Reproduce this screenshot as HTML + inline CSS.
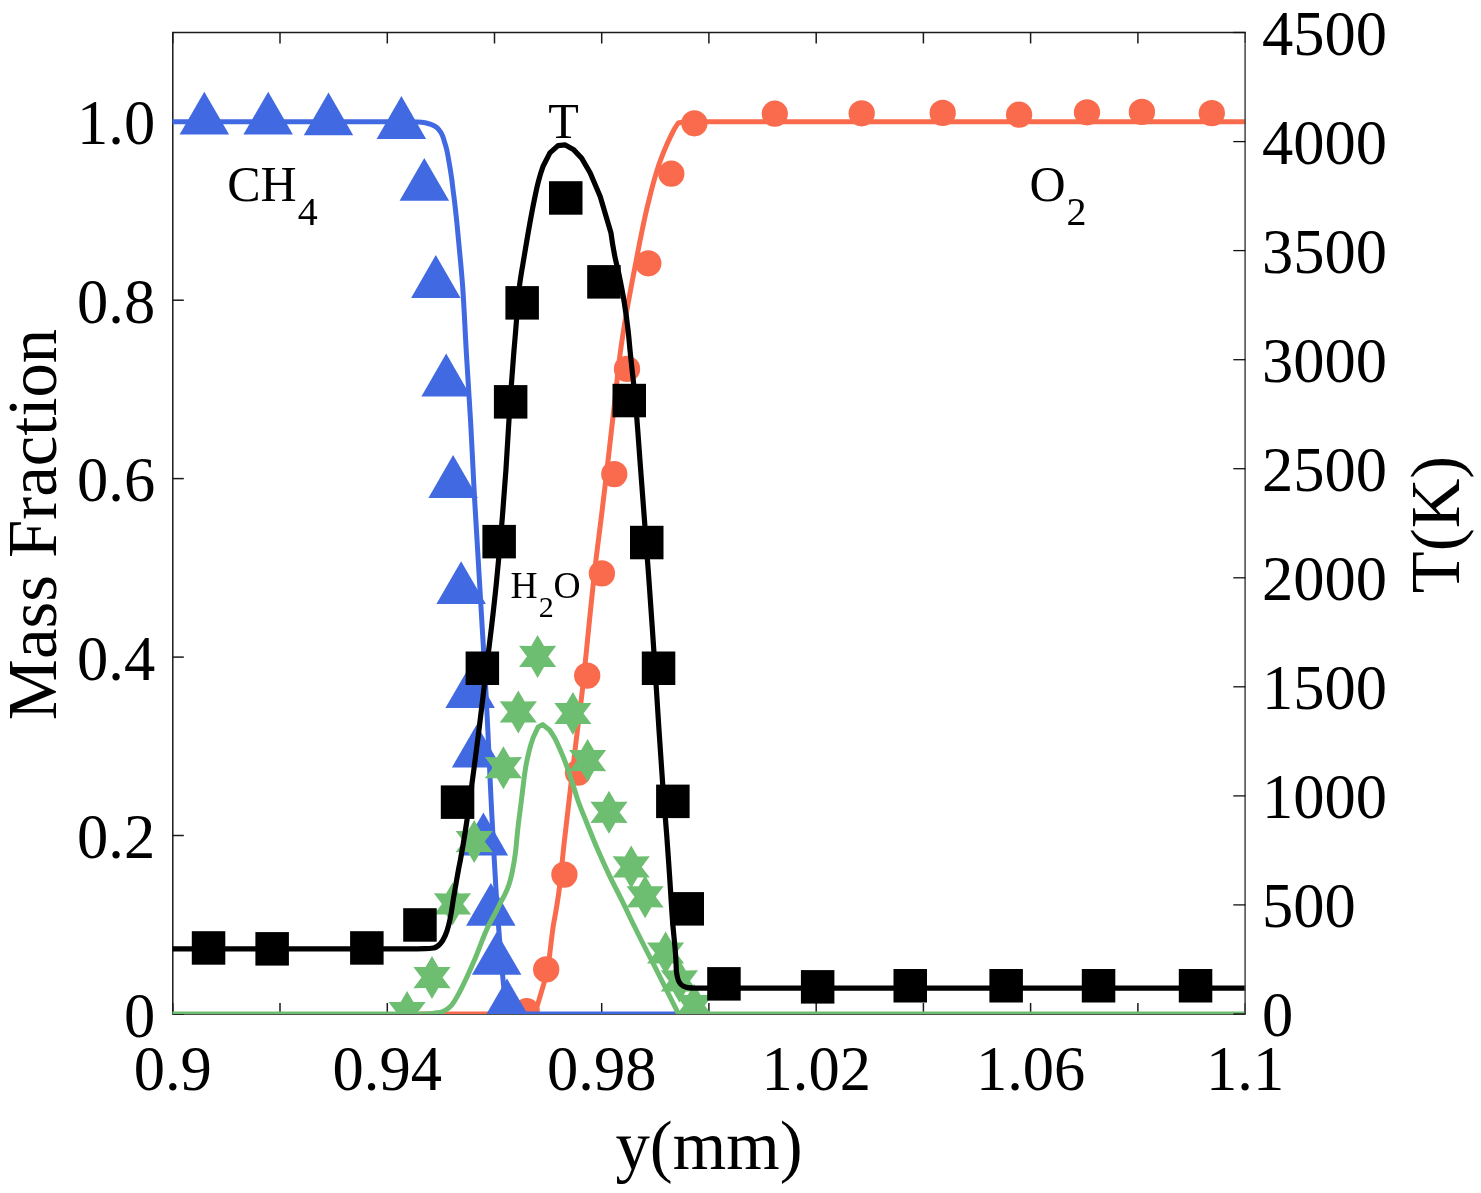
<!DOCTYPE html>
<html lang="en"><head><meta charset="utf-8"><title>Mass fraction and temperature profiles</title>
<style>html,body{margin:0;padding:0;background:#fff}svg{display:block}text{font-family:"Liberation Serif", "DejaVu Serif", serif;fill:#000}</style></head><body>
<svg width="1481" height="1193" viewBox="0 0 1481 1193" style="will-change:transform">
<rect x="0" y="0" width="1481" height="1193" fill="#ffffff"/>
<defs><clipPath id="ax"><rect x="172.5" y="32.2" width="1072.9" height="981.7"/></clipPath></defs>
<g stroke="#1a1a1a" stroke-width="1.5" fill="none" stroke-linecap="butt">
<polyline points="1245.1,1014 172.8,1014 172.8,32.5 1245.8,32.5" stroke-linejoin="miter"/>
<line x1="172.8" y1="1014" x2="172.8" y2="1003"/>
<line x1="172.8" y1="32.5" x2="172.8" y2="43.5"/>
<line x1="280" y1="1014" x2="280" y2="1003"/>
<line x1="280" y1="32.5" x2="280" y2="43.5"/>
<line x1="387.3" y1="1014" x2="387.3" y2="1003"/>
<line x1="387.3" y1="32.5" x2="387.3" y2="43.5"/>
<line x1="494.5" y1="1014" x2="494.5" y2="1003"/>
<line x1="494.5" y1="32.5" x2="494.5" y2="43.5"/>
<line x1="601.7" y1="1014" x2="601.7" y2="1003"/>
<line x1="601.7" y1="32.5" x2="601.7" y2="43.5"/>
<line x1="708.9" y1="1014" x2="708.9" y2="1003"/>
<line x1="708.9" y1="32.5" x2="708.9" y2="43.5"/>
<line x1="816.2" y1="1014" x2="816.2" y2="1003"/>
<line x1="816.2" y1="32.5" x2="816.2" y2="43.5"/>
<line x1="923.4" y1="1014" x2="923.4" y2="1003"/>
<line x1="923.4" y1="32.5" x2="923.4" y2="43.5"/>
<line x1="1030.6" y1="1014" x2="1030.6" y2="1003"/>
<line x1="1030.6" y1="32.5" x2="1030.6" y2="43.5"/>
<line x1="1137.9" y1="1014" x2="1137.9" y2="1003"/>
<line x1="1137.9" y1="32.5" x2="1137.9" y2="43.5"/>
<line x1="1245.1" y1="1014" x2="1245.1" y2="1003"/>
<line x1="1245.1" y1="32.5" x2="1245.1" y2="43.5"/>
<line x1="172.8" y1="1014" x2="183.8" y2="1014"/>
<line x1="172.8" y1="835.5" x2="183.8" y2="835.5"/>
<line x1="172.8" y1="657.1" x2="183.8" y2="657.1"/>
<line x1="172.8" y1="478.6" x2="183.8" y2="478.6"/>
<line x1="172.8" y1="300.2" x2="183.8" y2="300.2"/>
<line x1="172.8" y1="121.7" x2="183.8" y2="121.7"/>
</g>
<g clip-path="url(#ax)">
<path d="M420,1014 L533,1014 L534.8,1013.5 L537.5,1004.9 L547.3,972 L549.6,955.1 L551.4,940 L553.2,926 C555.66,913.18 557.85,900.32 559.5,887.4 C561.25,873.72 562.3,859.93 563.8,846.2 C565.73,828.59 567.84,811 569.9,793.4 C571.87,776.56 573.88,759.73 575.9,742.9 C578.2,723.73 580.78,704.59 582.9,685.4 C585.01,666.29 586.74,647.13 588.7,628 C590.61,609.4 592.4,590.78 594.5,572.2 C596.66,553.05 599.28,533.94 601.6,514.8 C603.91,495.67 606.18,476.54 608.4,457.4 C610.61,438.27 612.74,419.13 614.9,400 C616.63,384.67 618.09,369.29 620.1,354 C622.04,339.19 624.5,324.43 627,309.7 C628.82,298.98 630.89,288.29 632.9,277.6 C635.21,265.32 637.52,253.04 640,240.8 C642.04,230.72 644.06,220.61 646.4,210.6 C649.55,197.12 652.84,183.56 657,170.4 C659.68,161.9 662.99,153.5 666.5,145.3 C668.94,139.6 671.7,134.01 674.6,128.5 L678.2,123 L684,121.8 L900,121.8 L1248.1,121.8" fill="none" stroke="#F96B4C" stroke-width="5.0" stroke-linejoin="round" stroke-linecap="butt"/>
<g fill="#F96B4C">
<circle cx="526.7" cy="1011.2" r="13.15"/>
<circle cx="546.2" cy="969.4" r="13.15"/>
<circle cx="564.4" cy="874.6" r="13.15"/>
<circle cx="578" cy="772.7" r="13.15"/>
<circle cx="587.2" cy="675.6" r="13.15"/>
<circle cx="601.9" cy="573.4" r="13.15"/>
<circle cx="614.3" cy="474.1" r="13.15"/>
<circle cx="627" cy="368.9" r="13.15"/>
<circle cx="648.3" cy="263.3" r="13.15"/>
<circle cx="671.3" cy="173.7" r="13.15"/>
<circle cx="694.4" cy="123.3" r="13.15"/>
<circle cx="774.8" cy="113.7" r="13.15"/>
<circle cx="861.7" cy="113.3" r="13.15"/>
<circle cx="942.7" cy="112.9" r="13.15"/>
<circle cx="1019.1" cy="114.7" r="13.15"/>
<circle cx="1087" cy="112.3" r="13.15"/>
<circle cx="1141.9" cy="111.9" r="13.15"/>
<circle cx="1211.8" cy="113.1" r="13.15"/>
</g>
<path d="M169.8,121.8 C213.2,121.8 256.6,121.8 300,121.8 C335,121.8 370.01,121.8 405,121.8 C409.2,121.8 413.41,121.94 417.6,122.1 C420.1,122.2 422.64,122.38 425.1,122.7 C426.83,122.92 428.55,123.53 430.2,124.1 C431.92,124.69 433.7,125.45 435.2,126.4 C436.44,127.18 437.64,128.29 438.6,129.4 C440.05,131.09 441.39,133.15 442.3,135.2 C443.41,137.7 444.09,140.52 444.9,143.2 C445.58,145.45 446.28,147.71 446.8,150 C447.56,153.33 448.1,156.73 448.7,160.1 C449.29,163.43 449.87,166.76 450.4,170.1 C450.93,173.46 451.45,176.83 451.9,180.2 C452.34,183.53 452.69,186.87 453.1,190.2 C453.52,193.57 453.99,196.93 454.4,200.3 C454.79,203.5 455.14,206.7 455.5,209.9 C455.95,213.93 456.39,217.96 456.8,222 C457.44,228.33 458.02,234.67 458.6,241 C460.01,256.33 461.63,271.65 462.7,287 C464.24,309.14 465.1,331.34 466.4,353.5 C467.76,376.67 469.41,399.83 470.7,423 C471.98,445.99 472.94,469.01 474.2,492 C475.25,511.17 476.47,530.33 477.6,549.5 C479.14,575.5 480.65,601.5 482.2,627.5 C483.12,643 484.15,658.5 485,674 C486.06,693.16 486.98,712.33 487.9,731.5 C488.66,747.4 489.35,763.3 490.1,779.2 C490.62,790.23 491.14,801.27 491.7,812.3 C492.45,826.94 493.29,841.57 494.1,856.2 C494.6,865.2 495.08,874.2 495.6,883.2 C495.95,889.3 496.3,895.4 496.7,901.5 C497.55,914.34 498.57,927.17 499.6,940 C500.59,952.34 501.6,964.68 502.8,977 C503.52,984.34 504,991.8 505.2,999 C505.76,1002.38 506.61,1006.11 508,1009 C508.71,1010.48 510.1,1012.46 511.5,1013 C512.71,1013.47 514.49,1013.88 516,1013.9 C523.9,1013.98 532,1014 540,1014 C573.33,1014 606.67,1014 640,1014 C656.67,1014 673.33,1014 690,1014" fill="none" stroke="#4169E1" stroke-width="5.0" stroke-linejoin="round" stroke-linecap="butt"/>
<g fill="#4169E1">
<polygon points="204.3,91.7 179.6,134.5 229.1,134.5"/>
<polygon points="268.2,91.7 243.4,134.5 292.9,134.5"/>
<polygon points="328.5,92.5 303.8,135.3 353.2,135.3"/>
<polygon points="401.4,96.1 376.6,138.9 426.1,138.9"/>
<polygon points="424.3,158 399.6,200.8 449.1,200.8"/>
<polygon points="435.8,255.1 411.1,297.9 460.6,297.9"/>
<polygon points="446.2,353.6 421.4,396.4 470.9,396.4"/>
<polygon points="453.1,455.1 428.4,497.9 477.9,497.9"/>
<polygon points="461.1,561.2 436.4,604 485.9,604"/>
<polygon points="470.2,665.2 445.4,708 494.9,708"/>
<polygon points="476.7,724.6 451.9,767.4 501.4,767.4"/>
<polygon points="483.4,812.6 458.6,855.4 508.1,855.4"/>
<polygon points="490.9,883 466.1,925.8 515.6,925.8"/>
<polygon points="496.6,932 471.9,974.8 521.4,974.8"/>
<polygon points="507,978.6 482.2,1021.4 531.8,1021.4"/>
</g>
<path d="M169.8,1014 C213.2,1014 256.6,1014 300,1014 C340,1014 380.01,1014 420,1014 C423.33,1014 426.68,1013.92 430,1013.8 C432.34,1013.71 434.68,1013.19 437,1012.8 C438.67,1012.52 440.41,1012.27 442,1011.8 C443.57,1011.34 445.11,1010.39 446.5,1009.5 C448.18,1008.42 449.89,1007.05 451.2,1005.6 C454.93,1001.44 457.56,995.8 460.3,990.7 C465.65,980.72 470.09,970.14 474.6,959.7 C479.24,948.95 482.82,937.66 487.8,927.1 C489.9,922.64 492.53,918.4 494.8,914 C496.58,910.56 498.22,907.04 500,903.6 C501.66,900.38 503.58,897.27 505.1,894 C506.54,890.91 507.96,887.74 509,884.5 C510.21,880.75 511.19,876.87 512,873 C513.39,866.4 514.55,859.7 515.4,853 C516.37,845.37 516.85,837.66 517.7,830 C518.82,819.89 520.22,809.8 521.5,799.7 C522.88,788.83 523.92,777.88 525.7,767.1 C526.63,761.46 527.9,755.84 529.3,750.3 C530.37,746.06 531.68,741.86 533.1,737.7 L538.1,727 L542.6,724.6 L549.5,729.9 L554.5,737.7 C556.57,741.85 558.56,746.05 560.4,750.3 C562.79,755.83 565.04,761.44 567.1,767.1 C569.11,772.61 570.89,778.22 572.7,783.8 C574.41,789.08 575.88,794.46 577.7,799.7 C580.42,807.57 583.7,815.26 586.8,823 C590.52,832.3 594.23,841.61 598.2,850.8 C601.87,859.3 605.71,867.74 609.7,876.1 C613.76,884.61 618.25,892.93 622.4,901.4 C625.83,908.4 629.07,915.5 632.5,922.5 C639.27,936.31 646.17,950.06 653.3,963.7 L678.6,1014 L800,1014 L1248.1,1014" fill="none" stroke="#6DBE71" stroke-width="5.0" stroke-linejoin="round" stroke-linecap="butt"/>
<g fill="#6DBE71">
<polygon points="407.1,991 413.5,1002 425.7,1001.9 417.7,1012.5 425.7,1023.1 413.5,1023 407.1,1034 400.7,1023 388.5,1023.1 396.5,1012.5 388.5,1001.9 400.7,1002"/>
<polygon points="432,956.1 438.4,967.1 450.6,967 442.6,977.6 450.6,988.2 438.4,988.1 432,999.1 425.6,988.1 413.4,988.2 421.4,977.6 413.4,967 425.6,967.1"/>
<polygon points="452.5,882.4 458.9,893.4 471.1,893.3 463.1,903.9 471.1,914.5 458.9,914.4 452.5,925.4 446.1,914.4 433.9,914.5 441.9,903.9 433.9,893.3 446.1,893.4"/>
<polygon points="474.2,820.1 480.6,831.1 492.8,831 484.8,841.6 492.8,852.2 480.6,852.1 474.2,863.1 467.8,852.1 455.6,852.2 463.6,841.6 455.6,831 467.8,831.1"/>
<polygon points="503.4,746.2 509.8,757.2 522,757.1 514,767.7 522,778.3 509.8,778.2 503.4,789.2 497,778.2 484.8,778.3 492.8,767.7 484.8,757.1 497,757.2"/>
<polygon points="518.3,690.4 524.7,701.4 536.9,701.3 528.9,711.9 536.9,722.5 524.7,722.4 518.3,733.4 511.9,722.4 499.7,722.5 507.7,711.9 499.7,701.3 511.9,701.4"/>
<polygon points="537.6,634.9 544,645.9 556.2,645.8 548.2,656.4 556.2,667 544,666.9 537.6,677.9 531.2,666.9 519,667 527,656.4 519,645.8 531.2,645.9"/>
<polygon points="572.9,692 579.3,703 591.5,702.9 583.5,713.5 591.5,724.1 579.3,724 572.9,735 566.5,724 554.3,724.1 562.3,713.5 554.3,702.9 566.5,703"/>
<polygon points="587.6,739.1 594,750.1 606.2,750 598.2,760.6 606.2,771.2 594,771.1 587.6,782.1 581.2,771.1 569,771.2 577,760.6 569,750 581.2,750.1"/>
<polygon points="609,790.8 615.4,801.8 627.6,801.7 619.6,812.3 627.6,822.9 615.4,822.8 609,833.8 602.6,822.8 590.4,822.9 598.4,812.3 590.4,801.7 602.6,801.8"/>
<polygon points="631.2,845.4 637.6,856.4 649.8,856.3 641.8,866.9 649.8,877.5 637.6,877.4 631.2,888.4 624.8,877.4 612.6,877.5 620.6,866.9 612.6,856.3 624.8,856.4"/>
<polygon points="645.1,875.3 651.5,886.3 663.7,886.2 655.7,896.8 663.7,907.4 651.5,907.3 645.1,918.2 638.7,907.3 626.5,907.4 634.5,896.8 626.5,886.2 638.7,886.3"/>
<polygon points="665.6,931.5 672,942.5 684.2,942.4 676.2,953 684.2,963.6 672,963.5 665.6,974.5 659.2,963.5 647,963.6 655,953 647,942.4 659.2,942.5"/>
<polygon points="679.4,959.4 685.8,970.4 698,970.3 690,980.9 698,991.5 685.8,991.4 679.4,1002.4 673,991.4 660.8,991.5 668.8,980.9 660.8,970.3 673,970.4"/>
<polygon points="694.2,983.9 700.6,994.9 712.8,994.8 704.8,1005.4 712.8,1016 700.6,1015.9 694.2,1026.8 687.8,1015.9 675.6,1016 683.6,1005.4 675.6,994.8 687.8,994.9"/>
</g>
<path d="M169.8,948.9 C213.2,948.9 256.6,948.9 300,948.9 C336.67,948.9 373.34,948.9 410,948.9 C415,948.9 420.01,948.82 425,948.7 C427.84,948.63 430.9,948.41 433.5,948 C435.91,947.62 438.49,945.51 440.2,943.8 C442.33,941.67 444.02,938.35 445.3,935.4 C446.68,932.24 447.72,928.78 448.6,925.4 C449.61,921.53 450.38,917.55 451.1,913.6 C452.06,908.33 452.73,902.99 453.6,897.7 C454.43,892.66 455.32,887.63 456.2,882.6 C457.02,877.87 457.81,873.12 458.7,868.4 C459.23,865.59 459.87,862.81 460.4,860 C462.27,850.03 463.95,840.02 465.5,830 C467.85,814.77 469.84,799.48 471.9,784.2 C474.28,766.61 476.6,749.01 478.8,731.4 C481.2,712.25 483.36,693.06 485.7,673.9 C487.57,658.6 489.61,643.31 491.4,628 C493.13,613.24 494.81,598.48 496.3,583.7 C498.16,565.35 499.85,546.98 501.4,528.6 C503.07,508.71 504.64,488.81 506,468.9 C507.57,445.95 508.63,422.95 510.2,400 C511.25,384.66 512.46,369.33 513.7,354 C514.27,346.9 514.9,339.8 515.5,332.7 C516.8,317.4 517.68,302.03 519.4,286.8 C520.61,276.06 522.74,265.39 524.5,254.7 C526.24,244.12 528,233.55 529.9,223 C531.29,215.29 532.72,207.58 534.3,199.9 C535.54,193.85 536.76,187.77 538.3,181.8 C539.66,176.55 541.3,171.35 543.1,166.2 L549.9,152.9 L558,145.6 L565.3,144.9 L573.3,149.4 L581.6,158.1 L590.1,172.7 L600.2,196.4 L611,233.1 C611.93,240.35 613.14,247.55 614.5,254.7 C615.73,261.17 617.56,267.54 618.9,274 C620.83,283.3 622.71,292.63 624.2,302 C625.7,311.43 627.02,320.91 628.1,330.4 C628.99,338.25 629.6,346.14 630.4,354 C631.95,369.34 633.91,384.65 635.3,400 C637.37,422.93 638.85,445.93 640.6,468.9 C642.11,488.8 643.61,508.7 645.1,528.6 C646.48,546.97 647.88,565.33 649.2,583.7 C650.26,598.46 651.28,613.23 652.3,628 C653.35,643.3 654.39,658.6 655.4,673.9 C656.66,693.06 657.83,712.24 659.1,731.4 C660.36,750.54 661.59,769.68 663,788.8 C664.13,804.14 665.55,819.46 666.7,834.8 C667.84,850.09 668.87,865.4 669.9,880.7 C670.83,894.4 671.54,908.12 672.6,921.8 C673.33,931.21 674.47,940.59 675.2,950 C675.46,953.33 675.71,956.66 675.9,960 C676.1,963.63 676.13,967.29 676.4,970.9 C676.56,972.94 676.95,975.02 677.4,977 C677.81,978.81 678.44,980.79 679.3,982.3 C680.1,983.71 681.58,985.26 683,986 C684.42,986.75 686.3,987.37 688,987.6 C689.95,987.87 692,988.1 694,988.1 C702.65,988.1 711.33,988.1 720,988.1 C780,988.1 840,988.1 900,988.1 C1016.03,988.1 1132.07,988.1 1248.1,988.1" fill="none" stroke="#000000" stroke-width="5.2" stroke-linejoin="round" stroke-linecap="butt"/>
<g fill="#000000">
<rect x="191.8" y="931.2" width="33.5" height="33.5"/>
<rect x="255.4" y="932.1" width="33.5" height="33.5"/>
<rect x="350.1" y="931.2" width="33.5" height="33.5"/>
<rect x="403.2" y="908.2" width="33.5" height="33.5"/>
<rect x="440.8" y="785.4" width="33.5" height="33.5"/>
<rect x="465.6" y="651.5" width="33.5" height="33.5"/>
<rect x="482.4" y="524.9" width="33.5" height="33.5"/>
<rect x="493.9" y="385.1" width="33.5" height="33.5"/>
<rect x="505.4" y="286.1" width="33.5" height="33.5"/>
<rect x="549" y="181.2" width="33.5" height="33.5"/>
<rect x="587.2" y="265.1" width="33.5" height="33.5"/>
<rect x="612.5" y="383.8" width="33.5" height="33.5"/>
<rect x="630" y="525.8" width="33.5" height="33.5"/>
<rect x="641.8" y="651.5" width="33.5" height="33.5"/>
<rect x="656.1" y="784.6" width="33.5" height="33.5"/>
<rect x="670.5" y="892.1" width="33.5" height="33.5"/>
<rect x="707.2" y="967.1" width="33.5" height="33.5"/>
<rect x="800.9" y="970.1" width="33.5" height="33.5"/>
<rect x="893.5" y="969" width="33.5" height="33.5"/>
<rect x="989.4" y="969" width="33.5" height="33.5"/>
<rect x="1081.8" y="969" width="33.5" height="33.5"/>
<rect x="1178.8" y="969" width="33.5" height="33.5"/>
</g>
</g>
<g stroke="#444444" stroke-width="1.5" fill="none" stroke-linecap="butt">
<line x1="1245.1" y1="43.5" x2="1245.1" y2="1014.8"/>
</g>
<g stroke="#111111" stroke-width="1.3" fill="none" stroke-linecap="butt">
<line x1="1245.4" y1="1014" x2="1233.3" y2="1014"/>
<line x1="1245.4" y1="904.9" x2="1233.3" y2="904.9"/>
<line x1="1245.4" y1="795.9" x2="1233.3" y2="795.9"/>
<line x1="1245.4" y1="686.8" x2="1233.3" y2="686.8"/>
<line x1="1245.4" y1="577.8" x2="1233.3" y2="577.8"/>
<line x1="1245.4" y1="468.7" x2="1233.3" y2="468.7"/>
<line x1="1245.4" y1="359.7" x2="1233.3" y2="359.7"/>
<line x1="1245.4" y1="250.6" x2="1233.3" y2="250.6"/>
<line x1="1245.4" y1="141.6" x2="1233.3" y2="141.6"/>
<line x1="1245.4" y1="32.5" x2="1233.3" y2="32.5"/>
</g>
<g font-size="62.5">
<text x="155.2" y="1036.6" text-anchor="end">0</text>
<text x="155.2" y="858.1" text-anchor="end">0.2</text>
<text x="155.2" y="679.7" text-anchor="end">0.4</text>
<text x="155.2" y="501.2" text-anchor="end">0.6</text>
<text x="155.2" y="322.8" text-anchor="end">0.8</text>
<text x="155.2" y="144.3" text-anchor="end">1.0</text>
<text x="1262" y="1036.4" text-anchor="start">0</text>
<text x="1262" y="927.3" text-anchor="start">500</text>
<text x="1262" y="818.3" text-anchor="start">1000</text>
<text x="1262" y="709.2" text-anchor="start">1500</text>
<text x="1262" y="600.2" text-anchor="start">2000</text>
<text x="1262" y="491.1" text-anchor="start">2500</text>
<text x="1262" y="382.1" text-anchor="start">3000</text>
<text x="1262" y="273" text-anchor="start">3500</text>
<text x="1262" y="164" text-anchor="start">4000</text>
<text x="1262" y="54.9" text-anchor="start">4500</text>
<text x="172.8" y="1090.4" text-anchor="middle">0.9</text>
<text x="387.3" y="1090.4" text-anchor="middle">0.94</text>
<text x="601.7" y="1090.4" text-anchor="middle">0.98</text>
<text x="816.2" y="1090.4" text-anchor="middle">1.02</text>
<text x="1030.6" y="1090.4" text-anchor="middle">1.06</text>
<text x="1245.1" y="1090.4" text-anchor="middle">1.1</text>
</g>
<g font-size="68.75" text-anchor="middle">
<text x="709" y="1169">y(mm)</text>
<text transform="translate(56.2,524.5) rotate(-90)">Mass Fraction</text>
<text transform="translate(1458.6,524.5) rotate(-90)">T(K)</text>
</g>
<g>
<text x="227.2" y="201.4" font-size="50">CH<tspan x="297.8" y="224.8" font-size="40">4</tspan></text>
<text x="1029.6" y="201.4" font-size="50">O<tspan x="1066.6" y="224.8" font-size="40">2</tspan></text>
<text x="548.2" y="138" font-size="50">T</text>
<text x="510.5" y="597.8" font-size="37.5">H<tspan x="538.7" y="617.1" font-size="30">2</tspan><tspan x="553.5" y="597.8" font-size="37.5">O</tspan></text>
</g>
</svg></body></html>
